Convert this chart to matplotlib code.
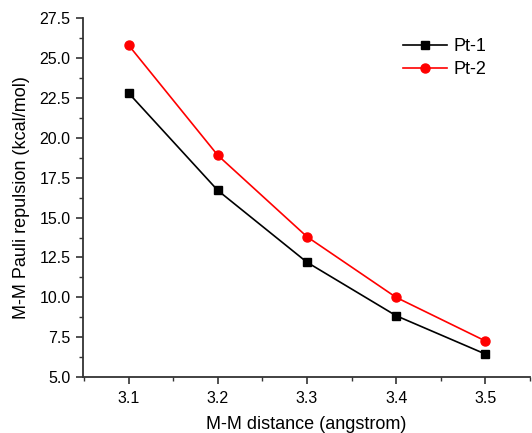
import numpy as np
from matplotlib import pyplot as plt

distance = [3.1, 3.2, 3.3, 3.4, 3.5]
pt1 = [22.8, 16.7, 12.2, 8.85, 6.45]
pt2 = [25.8, 18.9, 13.8, 10.0, 7.27]

plt.rcParams['font.family'] = ['Liberation Sans', 'DejaVu Sans']

fig = plt.figure(figsize=(5.32, 4.33), dpi=100)
ax = fig.add_axes([0.156, 0.129, 0.84, 0.829])

ax.plot(distance, pt1, color='black', marker='s', markersize=6, linewidth=1.2, label='Pt-1')
ax.plot(distance, pt2, color='red', marker='o', markersize=6.5, linewidth=1.2, label='Pt-2')

ax.set_xlim(3.0487, 3.549)
ax.set_ylim(5.0, 27.5)
ax.set_xticks(distance)
ax.set_xticks([3.05, 3.15, 3.25, 3.35, 3.45, 3.55], minor=True)
ax.set_yticks(np.arange(5.0, 27.6, 2.5))
ax.set_yticks(np.arange(6.25, 27.5, 2.5), minor=True)
ax.yaxis.set_major_formatter(plt.FormatStrFormatter('%.1f'))

for s in ['top', 'right']:
    ax.spines[s].set_visible(False)
for s in ['left', 'bottom']:
    ax.spines[s].set_linewidth(1.3)
    ax.spines[s].set_color('#333333')

ax.tick_params(which='major', direction='out', length=5, width=1.2, labelsize=11.5, colors='#333333', labelcolor='black')
ax.tick_params(which='minor', direction='out', length=3, width=1.0, colors='#333333')
ax.tick_params(axis='x', pad=5)
ax.tick_params(axis='y', pad=4)

ax.set_xlabel('M-M distance (angstrom)', fontsize=13, labelpad=7)
ax.set_ylabel('M-M Pauli repulsion (kcal/mol)', fontsize=13, labelpad=7)

ax.legend(loc='upper right', bbox_to_anchor=(0.94, 0.99), frameon=False, fontsize=13,
          handlelength=2.4, handletextpad=0.4, labelspacing=0.35)

plt.savefig('out.png', dpi=100)
plt.close()
